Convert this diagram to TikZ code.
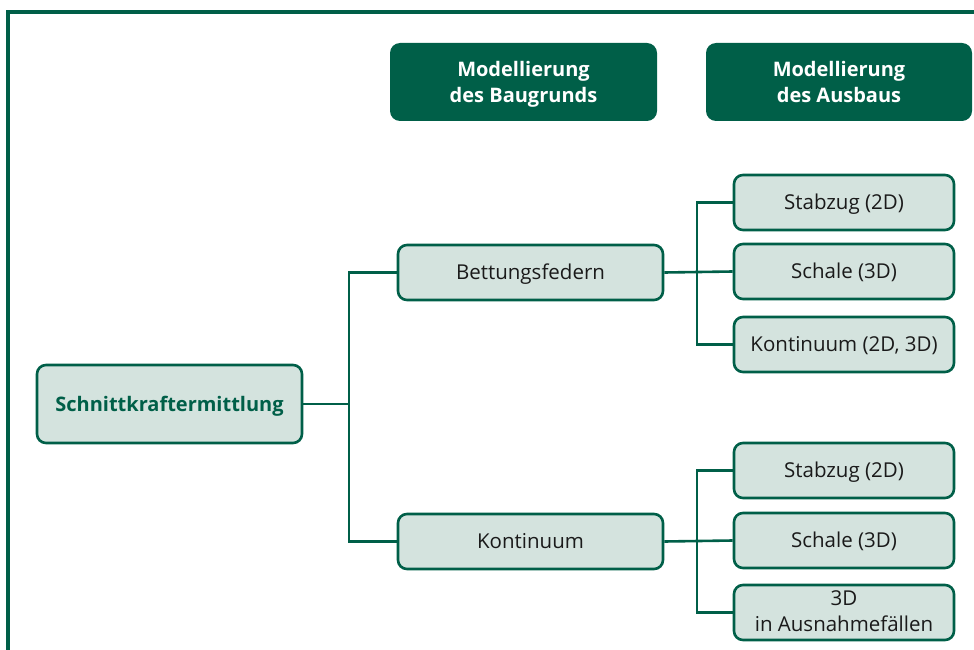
\documentclass[tikz,border=0pt]{standalone}
\usepackage{fontspec}
\setmainfont{Open Sans}
\definecolor{dkgreen}{RGB}{0,95,72}
\definecolor{ltfill}{RGB}{212,227,222}
\definecolor{txt}{RGB}{26,26,26}
\begin{document}
\begin{tikzpicture}[x=1pt,y=-1pt,
  box/.style={draw=dkgreen, line width=2.6pt, fill=ltfill, rounded corners=9pt, inner sep=0pt, align=center, text=txt, font=\fontsize{20.5}{23}\selectfont},
  one/.style={text height=14.6pt, text depth=0pt},
  head/.style={fill=dkgreen, rounded corners=10pt, inner sep=0pt, align=center, text=white, font=\fontsize{20}{26}\selectfont\bfseries, text depth=0pt},
  conn/.style={draw=dkgreen, line width=2.6pt}]
\useasboundingbox (0,0) rectangle (974,650);
\clip (0,0) rectangle (974,650);
\draw[dkgreen, line width=3.2pt] (8,12) rectangle (1000,700);
% headers
\node[head, minimum width=267pt, minimum height=78pt] (h1) at (523.5,82) {Modellierung\\des Baugrunds};
\node[head, minimum width=266pt, minimum height=78pt] (h2) at (839,82) {Modellierung\\des Ausbaus};
% root
\node[box, one, minimum width=265pt, minimum height=78pt, text=dkgreen, font=\fontsize{20}{23}\selectfont\bfseries] (root) at (169.5,404) {Schnittkraftermittlung};
% middle
\node[box, one, minimum width=265pt, minimum height=55pt] (bf) at (530.5,272.5) {Bettungsfedern};
\node[box, one, minimum width=265pt, minimum height=55pt] (ko) at (530.5,541.5) {Kontinuum};
% right
\node[box, one, minimum width=220pt, minimum height=55pt] (s1) at (844,202.5) {Stabzug (2D)};
\node[box, one, minimum width=220pt, minimum height=55pt] (c1) at (844,271.5) {Schale (3D)};
\node[box, one, minimum width=220pt, minimum height=55pt] (k1) at (844,344.5) {Kontinuum (2D, 3D)};
\node[box, one, minimum width=220pt, minimum height=55pt] (s2) at (844,470.5) {Stabzug (2D)};
\node[box, one, minimum width=220pt, minimum height=55pt] (c2) at (844,540.5) {Schale (3D)};
\node[box, minimum width=220pt, minimum height=55pt, font=\fontsize{20.5}{26}\selectfont, text depth=2pt] (a2) at (844,612.5) {3D\\in Ausnahmefällen};
% connectors
\coordinate (j0) at (349,404);
\draw[conn] (root.east) -- (j0);
\draw[conn] (bf.west) -| (j0) |- (ko.west);
\coordinate (j1) at (697,272);
\draw[conn] (bf.east) -- (c1.west);
\draw[conn] (s1.west) -| (j1) |- (k1.west);
\coordinate (j2) at (697,541);
\draw[conn] (ko.east) -- (c2.west);
\draw[conn] (s2.west) -| (j2) |- (a2.west);
\end{tikzpicture}
\end{document}
